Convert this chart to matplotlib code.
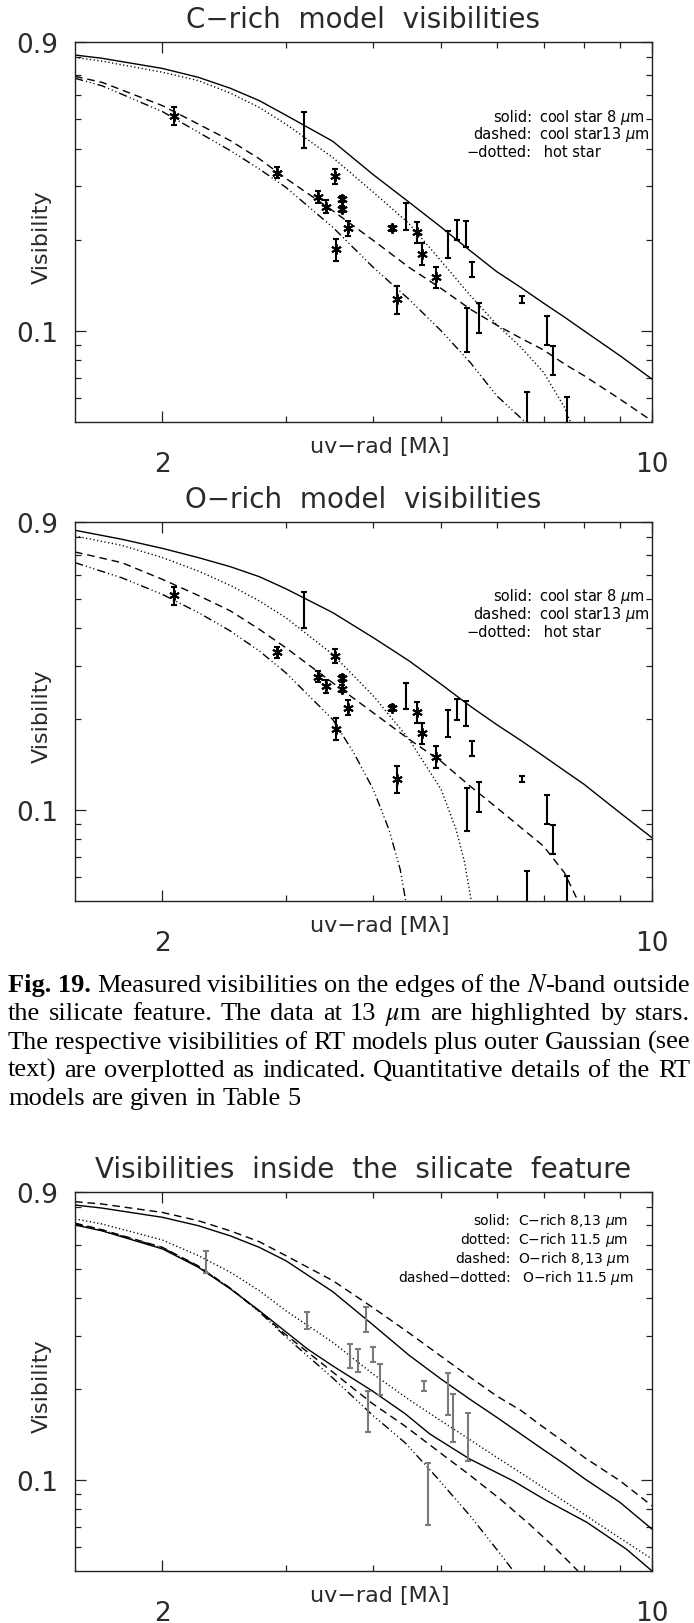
import matplotlib
matplotlib.use('Agg')
import matplotlib.pyplot as plt
from matplotlib.ticker import FixedLocator, FixedFormatter, NullFormatter

plt.rcParams['font.family'] = ['DejaVu Sans']
plt.rcParams['mathtext.fontset'] = 'dejavusans'

# measured visibilities, the same set is shown in the C-rich and O-rich panels
# 13 micron points (stars)
uv_13 = [2.08, 2.91, 3.53, 3.33, 3.42, 3.61, 3.61, 3.68, 3.54, 4.25, 4.62, 4.69, 4.92, 4.32]
vis_13 = [0.514, 0.333, 0.324, 0.277, 0.2575, 0.273, 0.2527, 0.2187, 0.186, 0.218, 0.2115, 0.180, 0.1505, 0.127]
err_13 = [0.036, 0.014, 0.018, 0.012, 0.013, 0.007, 0.0063, 0.0125, 0.0153, 0.0047, 0.0168, 0.0147, 0.0123, 0.0133]
# 8 micron points (bars only)
uv_8 = [3.19, 4.46, 5.12, 5.26, 5.43, 5.53, 6.53, 5.44, 5.66, 7.07, 7.21, 6.63, 7.55]
vis_8 = [0.465, 0.240, 0.194, 0.216, 0.210, 0.160, 0.127, 0.102, 0.111, 0.101, 0.0805, 0.050, 0.049]
err_8 = [0.063, 0.0243, 0.020, 0.0167, 0.0205, 0.0094, 0.003, 0.0167, 0.0127, 0.0112, 0.0089, 0.0127, 0.0116]

# visibilities inside the silicate feature
uv_si = [2.31, 3.22, 3.91, 3.70, 3.80, 4.00, 4.09, 3.93, 4.72, 5.11, 5.20, 5.46, 4.79]
vis_si = [0.531, 0.338, 0.341, 0.259, 0.250, 0.261, 0.217, 0.171, 0.2055, 0.1955, 0.163, 0.141, 0.0925]
err_si = [0.044, 0.0215, 0.0324, 0.023, 0.0216, 0.0155, 0.0253, 0.0265, 0.0078, 0.031, 0.0297, 0.0257, 0.0213]

# model curves
uv_grid = [1.5, 1.64, 2, 2.25, 2.5, 2.75, 3, 3.5, 4, 4.5, 5, 5.5, 6, 6.5, 7, 7.5, 8, 9, 10]
uv_grid2 = [1.5, 1.75, 2, 2.25, 2.5, 2.75, 3, 3.5, 4, 4.5, 5, 5.5, 6, 6.5, 7, 7.5, 8, 9, 10]

# C-rich
c_cool8 = [0.815, 0.795, 0.736, 0.688, 0.633, 0.576, 0.516, 0.423, 0.328, 0.266, 0.220,
           0.184, 0.157, 0.139, 0.1235, 0.111, 0.100, 0.0828, 0.0693]
c_cool13 = [0.693, 0.662, 0.5545, 0.482, 0.425, 0.370, 0.319, 0.2495, 0.199, 0.162, 0.138,
            0.118, 0.1045, 0.0945, 0.0865, 0.0777, 0.0711, 0.0595, 0.0504]
c_dot_uv = [1.5, 1.64, 2, 2.25, 2.5, 2.75, 3, 3.5, 4, 4.5, 5, 5.5, 6, 6.5, 7, 7.5, 7.65]
c_dot = [0.801, 0.778, 0.715, 0.671, 0.610, 0.547, 0.482, 0.374, 0.287, 0.226, 0.170,
         0.131, 0.105, 0.0882, 0.073, 0.0559, 0.05]
c_hot_uv = [1.5, 1.64, 2, 2.25, 2.5, 2.75, 3, 3.5, 4, 4.5, 5, 5.5, 6, 6.59]
c_hot = [0.683, 0.645, 0.530, 0.453, 0.394, 0.3425, 0.298, 0.220, 0.162, 0.127, 0.100,
         0.0787, 0.0611, 0.05]

# O-rich
o_cool8 = [0.845, 0.789, 0.736, 0.686, 0.640, 0.593, 0.541, 0.451, 0.3725, 0.312, 0.261,
           0.221, 0.192, 0.170, 0.151, 0.135, 0.1217, 0.098, 0.081]
o_dot_uv = [1.5, 1.75, 2, 2.25, 2.5, 2.75, 3, 3.5, 4, 4.5, 5, 5.25, 5.4, 5.52]
o_dot = [0.809, 0.753, 0.686, 0.619, 0.555, 0.493, 0.434, 0.328, 0.239, 0.1715, 0.117,
         0.0864, 0.0672, 0.05]
o_cool13_uv = [1.5, 1.75, 2, 2.25, 2.5, 2.75, 3, 3.5, 4, 4.5, 5, 5.5, 6, 6.5, 7, 7.5, 7.84]
o_cool13 = [0.716, 0.660, 0.581, 0.514, 0.457, 0.397, 0.345, 0.264, 0.210, 0.1715, 0.145,
            0.120, 0.102, 0.0875, 0.076, 0.062, 0.05]
o_hot_uv = [1.5, 1.75, 2, 2.25, 2.5, 2.75, 3, 3.5, 3.75, 4, 4.21, 4.37, 4.45]
o_hot = [0.660, 0.588, 0.518, 0.451, 0.392, 0.3365, 0.285, 0.1997, 0.155, 0.117, 0.0864,
         0.0636, 0.05]

# silicate feature models
si_c_upper = [0.815, 0.796, 0.742, 0.696, 0.644, 0.590, 0.533, 0.421, 0.326, 0.259, 0.216,
              0.185, 0.1615, 0.142, 0.126, 0.113, 0.1013, 0.0844, 0.0688]
si_c_lower_uv = [1.5, 1.64, 2, 2.25, 2.5, 2.75, 3, 3.22, 3.5, 3.98, 4.44, 4.82, 5.49, 6.33,
                 7.07, 8.07, 9.19, 10]
si_c_lower = [0.700, 0.669, 0.583, 0.507, 0.430, 0.364, 0.310, 0.272, 0.239, 0.198, 0.166,
              0.142, 0.1175, 0.0995, 0.0855, 0.0725, 0.0591, 0.050]
si_c_115 = [0.733, 0.705, 0.624, 0.554, 0.488, 0.424, 0.364, 0.286, 0.2242, 0.1846, 0.157,
            0.136, 0.119, 0.1056, 0.0943, 0.085, 0.077, 0.0643, 0.0548]
si_o_upper = [0.836, 0.821, 0.770, 0.723, 0.669, 0.616, 0.554, 0.458, 0.372, 0.307, 0.257,
              0.219, 0.190, 0.170, 0.1496, 0.1334, 0.119, 0.0995, 0.0822]
si_o_lower_uv = [1.5, 1.64, 2, 2.25, 2.5, 2.75, 3, 3.5, 3.98, 4.44, 4.92, 5.49, 6.09, 6.68,
                 7.25, 7.84]
si_o_lower = [0.710, 0.675, 0.590, 0.512, 0.432, 0.362, 0.303, 0.228, 0.180, 0.151, 0.126,
              0.104, 0.086, 0.0715, 0.060, 0.05]
si_o_115_uv = [1.5, 1.64, 2, 2.25, 2.5, 2.75, 3, 3.5, 3.98, 4.44, 4.92, 5.49, 6.09, 6.34]
si_o_115 = [0.705, 0.672, 0.588, 0.510, 0.431, 0.361, 0.298, 0.218, 0.165, 0.133, 0.1025,
            0.0765, 0.0565, 0.05]

caption = [
    r'Measured visibilities on the edges of the $N$-band outside',
    r'the silicate feature. The data at 13 $\mu$m are highlighted by stars.',
    'The respective visibilities of RT models plus outer Gaussian (see',
    'text) are overplotted as indicated. Quantitative details of the RT',
    'models are given in Table 5',
]

DOT = (0, (0.9, 1.8))
DASH = (0, (5.5, 3.5))
DASH3DOT = (0, (6, 2.2, 0.8, 2.0, 0.8, 2.0, 0.8, 2.2))
TXT = '#2a2a2a'

W, H = 694, 1624
fig = plt.figure(figsize=(W / 100, H / 100), dpi=100)


def setup(ax, title, height):
    ax.set_xscale('log')
    ax.set_yscale('log')
    ax.set_xlim(1.5, 10)
    ax.set_ylim(0.05, 0.9)
    ax.xaxis.set_major_locator(FixedLocator([2, 10]))
    ax.xaxis.set_major_formatter(FixedFormatter(['2', '10']))
    ax.xaxis.set_minor_locator(FixedLocator([3, 4, 5, 6, 7, 8, 9]))
    ax.xaxis.set_minor_formatter(NullFormatter())
    ax.yaxis.set_major_locator(FixedLocator([0.1, 0.9]))
    ax.yaxis.set_major_formatter(FixedFormatter(['0.1', '0.9']))
    ax.yaxis.set_minor_locator(FixedLocator([0.06, 0.07, 0.08, 0.09, 0.2, 0.3, 0.4,
                                             0.5, 0.6, 0.7, 0.8]))
    ax.yaxis.set_minor_formatter(NullFormatter())
    ax.tick_params(which='both', direction='in', top=True, right=True,
                   width=0.9, color='#222222', labelcolor=TXT)
    ax.tick_params(which='major', length=8, labelsize=19)
    ax.tick_params(which='minor', length=4)
    ax.tick_params(axis='x', which='major', pad=21)
    ax.tick_params(axis='y', which='major', pad=12)
    for sp in ax.spines.values():
        sp.set_linewidth(1.0)
        sp.set_color('#222222')
    ax.text(0.5, 1 + 23 / height, title, transform=ax.transAxes,
            ha='center', va='center', fontsize=20, color=TXT)
    ax.text(0.529, -0.063, 'uv\u2212rad [M\u03bb]', transform=ax.transAxes,
            ha='center', va='center', fontsize=16, color=TXT)
    ax.text(-0.057, 0.49, 'Visibility', transform=ax.transAxes, rotation=90,
            ha='center', va='center', fontsize=16, color=TXT)


def legend(ax, rows, colon_x, y0, dy, fs=10.5):
    for i, (key, desc) in enumerate(rows):
        y = y0 - i * dy
        ax.text(colon_x, y, key, transform=ax.transAxes, ha='right', va='center',
                fontsize=fs, color='k')
        ax.text(colon_x + 0.012, y, desc, transform=ax.transAxes, ha='left',
                va='center', fontsize=fs, color='k')


def data_points(ax):
    ax.errorbar(uv_8, vis_8, yerr=err_8, fmt='none', ecolor='k', elinewidth=1.5,
                capsize=2.5, capthick=1.5)
    ax.errorbar(uv_13, vis_13, yerr=err_13, fmt='none', ecolor='k', elinewidth=1.5,
                capsize=2.5, capthick=1.5)
    ax.plot(uv_13, vis_13, ls='none', marker=(6, 2, 0), ms=7.5, mew=1.4, color='k')


ax1 = fig.add_axes([75 / W, 1 - 423 / H, 577 / W, 380 / H])
ax2 = fig.add_axes([75 / W, 1 - 902 / H, 577 / W, 379 / H])
ax3 = fig.add_axes([75 / W, 1 - 1572 / H, 577 / W, 379 / H])

keys = [('solid:', r'cool star 8 $\mu$m'),
        ('dashed:', r'cool star13 $\mu$m'),
        ('\u2212dotted:', ' hot star')]

# C-rich panel
setup(ax1, 'C\u2212rich  model  visibilities', 380)
ax1.plot(uv_grid, c_cool8, 'k-', lw=1.0)
ax1.plot(c_dot_uv, c_dot, color='k', ls=DOT, lw=1.0)
ax1.plot(uv_grid, c_cool13, color='k', ls=DASH, lw=1.0)
ax1.plot(c_hot_uv, c_hot, color='k', ls=DASH3DOT, lw=1.0)
data_points(ax1)
legend(ax1, keys, 0.792, 0.805, 0.047)

# O-rich panel
setup(ax2, 'O\u2212rich  model  visibilities', 379)
ax2.plot(uv_grid2, o_cool8, 'k-', lw=1.0)
ax2.plot(o_dot_uv, o_dot, color='k', ls=DOT, lw=1.0)
ax2.plot(o_cool13_uv, o_cool13, color='k', ls=DASH, lw=1.0)
ax2.plot(o_hot_uv, o_hot, color='k', ls=DASH3DOT, lw=1.0)
data_points(ax2)
legend(ax2, keys, 0.792, 0.805, 0.047)

# silicate feature panel
setup(ax3, 'Visibilities  inside  the  silicate  feature', 379)
ax3.plot(uv_grid, si_c_upper, 'k-', lw=1.0)
ax3.plot(si_c_lower_uv, si_c_lower, 'k-', lw=1.0)
ax3.plot(uv_grid, si_c_115, color='k', ls=DOT, lw=1.0)
ax3.plot(uv_grid, si_o_upper, color='k', ls=DASH, lw=1.0)
ax3.plot(si_o_lower_uv, si_o_lower, color='k', ls=DASH, lw=1.0)
ax3.plot(si_o_115_uv, si_o_115, color='k', ls=DASH3DOT, lw=1.0)
ax3.errorbar(uv_si, vis_si, yerr=err_si, fmt='none', ecolor='#7a7a7a', elinewidth=1.5,
             capsize=2.5, capthick=1.5)
legend(ax3, [('solid:', r'C$-$rich 8,13 $\mu$m'),
             ('dotted:', r'C$-$rich 11.5 $\mu$m'),
             ('dashed:', r'O$-$rich 8,13 $\mu$m'),
             ('dashed\u2212dotted:', r' O$-$rich 11.5 $\mu$m')],
       0.755, 0.926, 0.05, fs=10)

# caption, justified between the two margins
renderer = fig.canvas.get_renderer()
cap_left, cap_right = 8, 690
baselines = [992, 1020, 1049, 1077, 1105]
cap_size = 19
for i, line in enumerate(caption):
    words = [(w, 'normal') for w in line.split(' ')]
    if i == 0:
        words = [('Fig. 19.', 'bold')] + words
    texts = []
    for w, weight in words:
        t = fig.text(0, 1 - baselines[i] / H, w, fontsize=cap_size, fontweight=weight,
                     family='Liberation Serif', math_fontfamily='stix',
                     va='baseline', ha='left', color='k')
        texts.append(t)
    widths = [t.get_window_extent(renderer).width for t in texts]
    if i < len(caption) - 1:
        gap = (cap_right - cap_left - sum(widths)) / (len(texts) - 1)
    else:
        gap = 0.25 * cap_size * 100 / 72
    x = cap_left
    for t, w in zip(texts, widths):
        t.set_x(x / W)
        x += w + gap

fig.savefig('out.png', dpi=100)
